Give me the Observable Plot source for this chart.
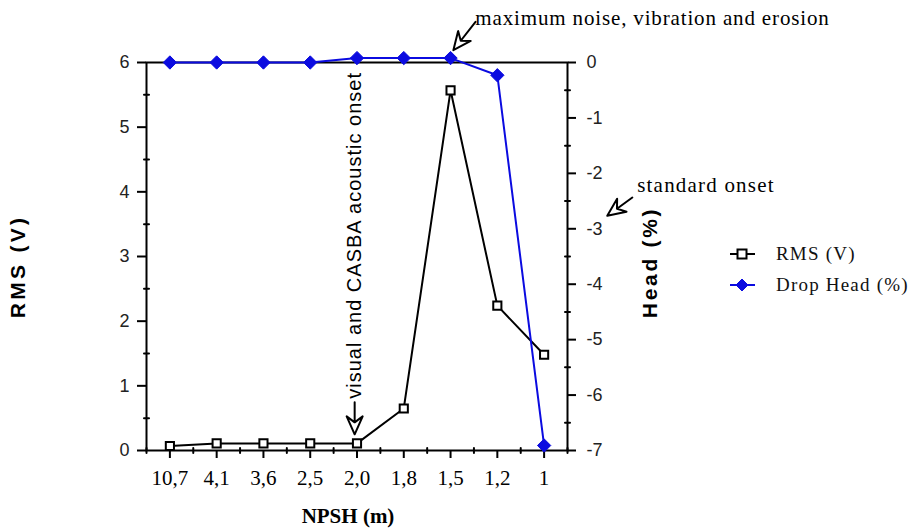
<!DOCTYPE html>
<html><head><meta charset="utf-8">
<script src="https://cdn.jsdelivr.net/npm/d3@7"></script>
<script src="https://cdn.jsdelivr.net/npm/@observablehq/plot@0.6"></script>
<style>
body{margin:0;background:#fff}
#wrap{position:relative;width:918px;height:529px}
#legend{position:absolute;left:728px;top:238px;font-family:"Liberation Serif",serif;font-size:19px;letter-spacing:1.2px;color:#111}
#legend .row{display:flex;align-items:center;height:31px}
#legend svg{margin-right:20px}
</style>
</head><body>
<div id="wrap"></div>
<script>
// ---- data ----
const npsh = ["10,7","4,1","3,6","2,5","2,0","1,8","1,5","1,2","1"];
const rms = [0.07,0.11,0.11,0.11,0.11,0.65,5.57,2.24,1.48];
const dropHead = [0,0,0,0,0.08,0.08,0.08,-0.23,-6.91];
const rmsTicks = [0,1,2,3,4,5,6];
const headTicks = [0,-1,-2,-3,-4,-5,-6,-7];
const annotText = ["visual and CASBA acoustic onset","maximum noise, vibration and erosion","standard onset"];
const annotX = [3.95, 6.53, 9.99];
const annotY = [0.80, 6.68, 4.10];
const arrowX = [3.95, 6.06, 9.35];
const arrowY = [0.25, 6.19, 3.63];

// head (%) is shown against a secondary axis: map [-7,0] onto [0,6]
const hy = h => (h + 7) * 6 / 7;
const yh = y => Math.round(y * 7 / 6 - 7);
const rows = npsh.map((c, i) => ({i, c, rms: rms[i], head: dropHead[i]}));
const blue = "#0b0be0";

const hollowArrow = {
  draw(ctx, l) {
    const h = 18, w = 8, n = 12;
    ctx.moveTo(0, 0); ctx.lineTo(0, -l + n);
    ctx.moveTo(0, -l); ctx.lineTo(-w, -l + h); ctx.lineTo(0, -l + n); ctx.lineTo(w, -l + h); ctx.closePath();
  }
};
const stick = {draw(ctx, l) { ctx.moveTo(0, 0); ctx.lineTo(0, -l); }};
const arrowMark = (k, rotate, length) => Plot.vector([k], {
  x: d => arrowX[d], y: d => arrowY[d], rotate, length, anchor: "end",
  shape: hollowArrow, stroke: "black", fill: "white", strokeWidth: 2
});

// minor tick positions
const xMinor = d3.range(npsh.length + 1).map(i => i - 0.5);
const leftMinor = rmsTicks.slice(1).map(t => t - 0.5);
const rightMinor = headTicks.slice(1).map(h => hy(h + 0.5));

const plot = Plot.plot({
  width: 918, height: 529,
  marginLeft: 146, marginRight: 351, marginTop: 62, marginBottom: 79,
  x: {type: "linear", domain: [-0.5, 8.5]},
  y: {domain: [0, 6]},
  style: {background: "white", color: "black"},
  marks: [
    // x axis
    Plot.axisX({ticks: d3.range(npsh.length), tickFormat: i => npsh[i], tickSize: 8, tickPadding: 12,
      fontSize: 21, fontFamily: "Liberation Serif", strokeWidth: 2, label: null}),
    Plot.vector(xMinor, {x: d => d, y: 0, rotate: 180, length: 5, shape: stick, stroke: "black", strokeWidth: 2}),
    // left axis
    Plot.axisY({ticks: rmsTicks, tickFormat: d => String(d), tickSize: 9, tickPadding: 8, fontSize: 18,
      fontFamily: "Liberation Sans", strokeWidth: 2, label: null, fill: "#222"}),
    Plot.vector(leftMinor, {x: -0.5, y: d => d, rotate: -90, length: 5, shape: stick, stroke: "black", strokeWidth: 2}),
    // right axis
    Plot.axisY({anchor: "right", ticks: headTicks.map(hy), tickFormat: y => String(yh(y)), tickSize: 8, tickPadding: 11,
      fontSize: 18, fontFamily: "Liberation Sans", strokeWidth: 2, label: null, fill: "#222"}),
    Plot.vector(rightMinor, {x: 8.5, y: d => d, rotate: 90, length: 5, shape: stick, stroke: "black", strokeWidth: 2}),
    Plot.frame({stroke: "black", strokeWidth: 2}),
    // axis titles
    Plot.text(["NPSH (m)"], {text: d => d, frameAnchor: "bottom", dy: 72, dx: -9, fontSize: 21,
      fontWeight: "bold", fontFamily: "Liberation Serif"}),
    Plot.text(["RMS (V)"], {text: d => d, frameAnchor: "left", textAnchor: "middle", rotate: -90, dx: -128, dy: 10,
      fontSize: 21, fontWeight: "bold", fontFamily: "Liberation Sans"}),
    Plot.text(["Head (%)"], {text: d => d, frameAnchor: "right", textAnchor: "middle", rotate: -90, dx: 83, dy: 6,
      fontSize: 21, fontWeight: "bold", fontFamily: "Liberation Sans"}),
    // series
    Plot.line(rows, {x: "i", y: "rms", stroke: "black", strokeWidth: 2}),
    Plot.dot(rows, {x: "i", y: "rms", symbol: "square", r: 4.6, fill: "white", stroke: "black", strokeWidth: 2}),
    Plot.line(rows, {x: "i", y: d => hy(d.head), stroke: blue, strokeWidth: 2}),
    Plot.dot(rows, {x: "i", y: d => hy(d.head), symbol: "diamond2", r: 6, fill: blue, stroke: blue, strokeWidth: 1}),
    // annotations
    Plot.text([0], {x: d => annotX[d], y: d => annotY[d], text: d => annotText[d], rotate: -90, textAnchor: "start",
      fontSize: 20, fontFamily: "Liberation Sans"}),
    Plot.text([1, 2], {x: d => annotX[d], y: d => annotY[d], text: d => annotText[d], textAnchor: "start",
      fontSize: 21, fontFamily: "Liberation Serif"}),
    arrowMark(0, 180, 32),
    arrowMark(1, -142, 36),
    arrowMark(2, -126, 31)
  ]
});

// letter spacing (not a Plot text option): applied to the drawn texts
const spacing = new Map([
  ["RMS (V)", 3.3], ["Head (%)", 2.7],
  [annotText[0], 1], [annotText[1], 0.85], [annotText[2], 1.2]
]);
d3.select(plot).selectAll("text").each(function() {
  const s = spacing.get(this.textContent);
  if (s != null) this.setAttribute("letter-spacing", s);
});

const wrap = document.getElementById("wrap");
wrap.appendChild(plot);

// legend
const legend = document.createElement("div");
legend.id = "legend";
const items = [
  {label: "RMS (V)", color: "black", sym: "square"},
  {label: "Drop Head (%)", color: blue, sym: "diamond"}
];
for (const it of items) {
  const row = document.createElement("div");
  row.className = "row";
  const s = d3.create("svg").attr("width", 28).attr("height", 16);
  s.append("line").attr("x1", 2).attr("x2", 27).attr("y1", 8).attr("y2", 8).attr("stroke", it.color).attr("stroke-width", 2);
  if (it.sym === "square") s.append("rect").attr("x", 9.5).attr("y", 3.5).attr("width", 9).attr("height", 9).attr("fill", "white").attr("stroke", "black").attr("stroke-width", 2);
  else s.append("path").attr("d", "M14,2L20,8L14,14L8,8Z").attr("fill", it.color).attr("stroke", it.color);
  row.appendChild(s.node());
  const t = document.createElement("span");
  t.textContent = it.label;
  row.appendChild(t);
  legend.appendChild(row);
}
wrap.appendChild(legend);
</script>
</body></html>
